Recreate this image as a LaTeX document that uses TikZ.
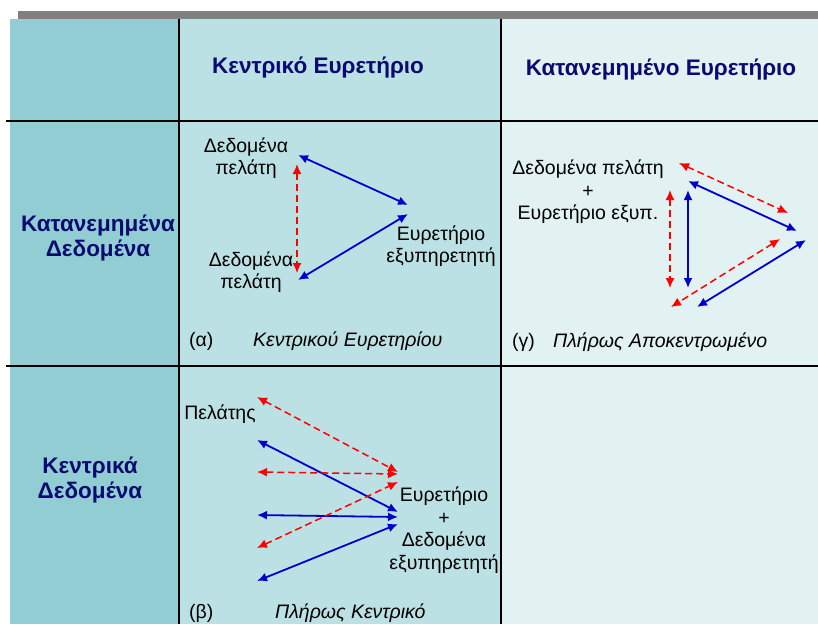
\documentclass[tikz,border=0pt]{standalone}
\usepackage{fontspec}
\setmainfont{Liberation Sans}
\usetikzlibrary{arrows.meta}
\definecolor{cBar}{HTML}{808080}
\definecolor{cSide}{HTML}{92CDD4}
\definecolor{cMid}{HTML}{BCE1E4}
\definecolor{cPale}{HTML}{E2F1F2}
\definecolor{cNavy}{HTML}{0A0A70}
\definecolor{cBlue}{HTML}{0000CC}
\definecolor{cRed}{HTML}{FF0000}

\begin{document}
\begin{tikzpicture}[
    x=1pt, y=-1pt,
    font=\fontsize{19.5}{22.5}\selectfont,
    >={Latex[length=10pt,width=9pt]},
    head/.style={font=\fontsize{22.5}{25}\selectfont\bfseries, text=cNavy, align=center},
    txt/.style={align=center, inner sep=0pt},
    capt/.style={anchor=west, inner sep=0pt},
    grid/.style={black, line width=2pt},
    barr/.style={<->, cBlue, line width=1.8pt},
    rarr/.style={<->, cRed, line width=1.5pt, dash pattern=on 7pt off 4pt},
]
\useasboundingbox (0,0) rectangle (818,624);

% ================================================================
%  Table background
% ================================================================

\fill[cBar]  (18,11)  rectangle (818,19);
\fill[cSide] (10,19)  rectangle (179,624);
\fill[cMid]  (179,19) rectangle (501,624);
\fill[cPale] (501,19) rectangle (818,624);

\draw[grid] (6,121)  -- (818,121);
\draw[grid] (6,366)  -- (818,366);
\draw[grid] (179,19) -- (179,624);
\draw[grid] (501,19) -- (501,624);

% ================================================================
%  Headers
% ================================================================

\node[head] (hcent) at (318,68) {Κεντρικό Ευρετήριο};
\node[head] (hdist) at (661,70) {Κατανεμημένο Ευρετήριο};
\node[head] (rdist) at (98,238) {Κατανεμημένα\\Δεδομένα};
\node[head] (rcent) at (90,480) {Κεντρικά\\Δεδομένα};

% ================================================================
%  (a) central index, distributed data
% ================================================================

\node[txt] (clA) at (246,158) {Δεδομένα\\πελάτη};
\node[txt] (clB) at (251,272) {Δεδομένα\\πελάτη};
\node[txt] (srvA) at (441,246) {Ευρετήριο\\εξυπηρετητή};

\coordinate (a1) at (298,155);
\coordinate (a2) at (408,205);
\coordinate (a3) at (408,214);
\coordinate (a4) at (298,280);
\coordinate (a5) at (297,164);
\coordinate (a6) at (297,273);

\draw[barr] (a1) -- (a2);
\draw[barr] (a3) -- (a4);
\draw[rarr] (a5) -- (a6);

\node[capt] (labA) at (189,341) {(α)};
\node[capt] (capA) at (253,341) {\itshape Κεντρικού Ευρετηρίου};

% ================================================================
%  (c) fully decentralised
% ================================================================

\node[txt] (peer) at (588,192) {Δεδομένα πελάτη\\+\\Ευρετήριο εξυπ.};

\coordinate (g1) at (679,163);
\coordinate (g2) at (788,213);
\coordinate (g3) at (688,181);
\coordinate (g4) at (797,231);
\coordinate (g5) at (670,190);
\coordinate (g6) at (670,288);
\coordinate (g7) at (688,190);
\coordinate (g8) at (688,288);
\coordinate (g9) at (780,239);
\coordinate (g10) at (671,307);
\coordinate (g11) at (806,240);
\coordinate (g12) at (697,307);

\draw[rarr] (g1) -- (g2);
\draw[barr] (g3) -- (g4);
\draw[rarr] (g5) -- (g6);
\draw[barr] (g7) -- (g8);
\draw[rarr] (g9) -- (g10);
\draw[barr] (g11) -- (g12);

\node[capt] (labG) at (512,342) {(γ)};
\node[capt] (capG) at (553,342) {\itshape Πλήρως Αποκεντρωμένο};

% ================================================================
%  (b) fully central
% ================================================================

\node[txt] (client) at (220,414) {Πελάτης};
\node[txt] (srvB) at (444,530) {Ευρετήριο\\+\\Δεδομένα\\εξυπηρετητή};

\coordinate (b1) at (257,397);
\coordinate (b2) at (398,472);
\coordinate (b3) at (257,440);
\coordinate (b4) at (398,512);
\coordinate (b5) at (257,472);
\coordinate (b6) at (398,474);
\coordinate (b7) at (257,515);
\coordinate (b8) at (398,517);
\coordinate (b9) at (257,548);
\coordinate (b10) at (398,482);
\coordinate (b11) at (257,581);
\coordinate (b12) at (398,524);

\draw[rarr] (b1) -- (b2);
\draw[barr] (b3) -- (b4);
\draw[rarr] (b5) -- (b6);
\draw[barr] (b7) -- (b8);
\draw[rarr] (b9) -- (b10);
\draw[barr] (b11) -- (b12);

\node[capt] (labB) at (189,613) {(β)};
\node[capt] (capB) at (275,613) {\itshape Πλήρως Κεντρικό};

\end{tikzpicture}
\end{document}
